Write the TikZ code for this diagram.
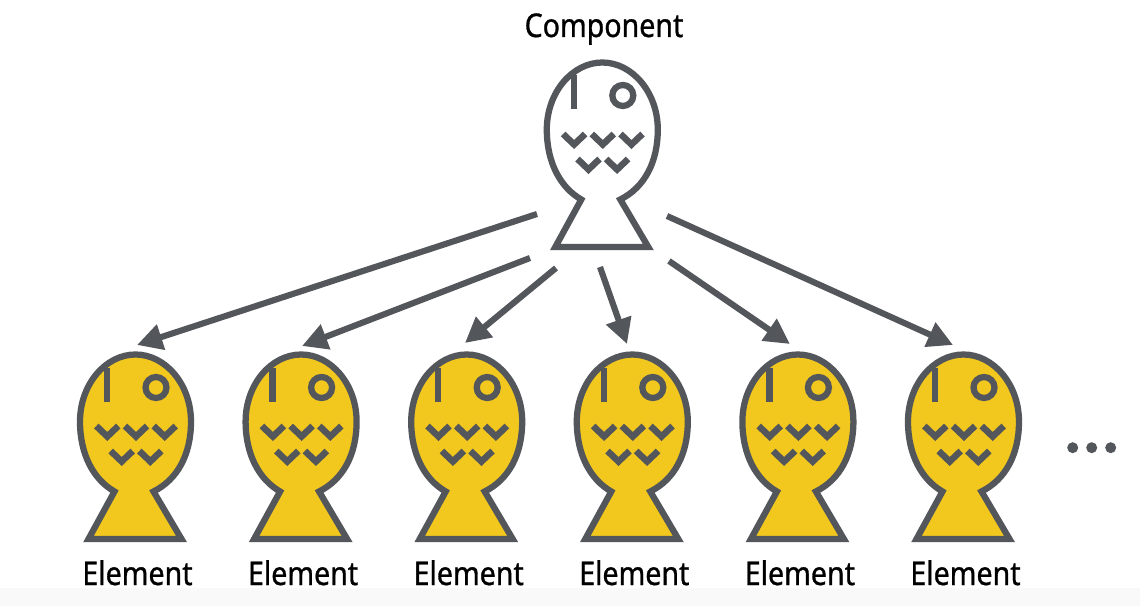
\documentclass[tikz,border=0pt]{standalone}
\usepackage{fontspec}
\setmainfont[FakeStretch=0.875,FakeBold=0.9]{Noto Sans}
\usetikzlibrary{arrows.meta}
\definecolor{ink}{HTML}{53565A}
\definecolor{fishy}{HTML}{F2C81F}
\definecolor{floorband}{HTML}{F9F9F9}
\tikzset{
  x=0.75pt,y=-0.75pt,
  fishline/.style={draw=ink,line width=4.7pt,line join=miter,miter limit=6},
  fine/.style={draw=ink,line width=4.9pt,line cap=butt,line join=miter},
  arrowline/.style={draw=ink,line width=4.6pt,-{Triangle[length=19pt,width=19pt]}},
  caption/.style={font=\fontsize{24.5}{28}\selectfont,text=black,inner sep=0pt,anchor=base},
  pics/fish/.style={code={
    \path[fishline,fill=#1] (-21,137) .. controls (-42,125) and (-55.5,100) .. (-55.5,67)
      .. controls (-55.5,30) and (-30,0) .. (0,0)
      .. controls (30,0) and (55.5,30) .. (55.5,67)
      .. controls (55.5,100) and (42,125) .. (18,137)
      -- (46,184.5) -- (-47,184.5) -- cycle;
    \draw[fine] (-28.5,13) -- (-28.5,47);
    \draw[fishline] (20.5,33) circle[radius=10.5];
    \foreach \cx in {-28.2,0.5,29.2} \draw[fine] (\cx-11,71.5) -- (\cx,82) -- (\cx+11,71.5);
    \foreach \cx in {-13.8,14.8} \draw[fine] (\cx-11,96.5) -- (\cx,107) -- (\cx+11,96.5);
  }}
}
\begin{document}
\begin{tikzpicture}
\useasboundingbox (0,0) rectangle (1140,606);
\fill[white] (0,0) rectangle (1140,606);
\fill[floorband] (0,588) rectangle (1140,606);
\pic at (602.3,62.5) {fish=white};
\foreach \i/\px in {1/135.5,2/301.1,3/466.7,4/632.3,5/797.9,6/963.5}{
  \pic at (\px,354.5) {fish=fishy};
  \node[caption] (lab\i) at (\px+2,585) {Element};
}
\node[caption] (comp) at (604,37) {Component};
\coordinate (s1) at (537,214); \coordinate (t1) at (137,345);
\coordinate (s2) at (530,258); \coordinate (t2) at (302,346);
\coordinate (s3) at (556,268); \coordinate (t3) at (465,343);
\coordinate (s4) at (600,267); \coordinate (t4) at (627,344);
\coordinate (s5) at (669,261); \coordinate (t5) at (790,344);
\coordinate (s6) at (667,216); \coordinate (t6) at (953,345);
\foreach \i in {1,...,6} \draw[arrowline] (s\i) -- (t\i);
\foreach \x in {1072.7,1091.7,1110.7} \fill[ink] (\x,447.7) circle[radius=5.5];
\end{tikzpicture}
\end{document}
